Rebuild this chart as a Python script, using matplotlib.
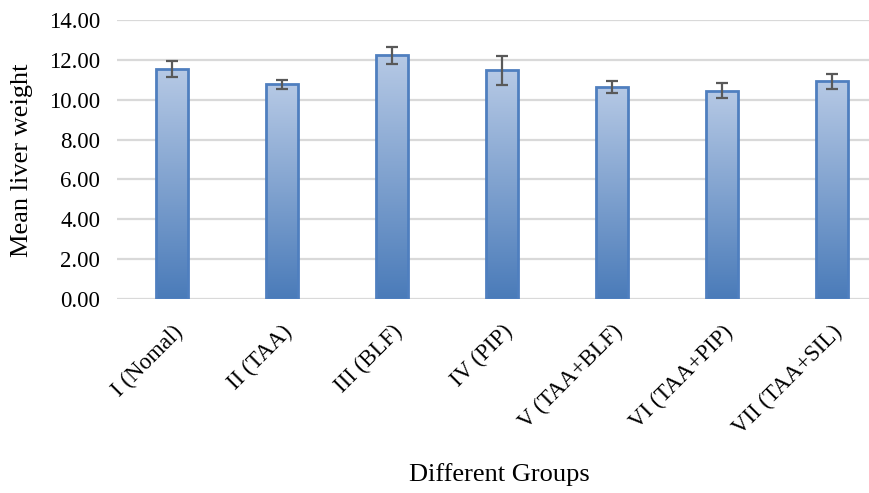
import numpy as np
import matplotlib
matplotlib.use('Agg')
import matplotlib.pyplot as plt
from matplotlib.colors import LinearSegmentedColormap

# values
groups = ['I (Nomal)', 'II (TAA)', 'III (BLF)', 'IV (PIP)',
          'V (TAA+BLF)', 'VI (TAA+PIP)', 'VII (TAA+SIL)']
means = [11.53, 10.78, 12.22, 11.47, 10.65, 10.45, 10.93]
errors = [0.41, 0.23, 0.44, 0.74, 0.31, 0.37, 0.37]
yticks = [0, 2, 4, 6, 8, 10, 12, 14]

plt.rcParams['font.family'] = ['Liberation Serif', 'DejaVu Serif']

fig = plt.figure(figsize=(8.7, 4.93), dpi=100)
ax = fig.add_axes([117 / 870, (493 - 299) / 493, 1 - 117 / 870, (299 - 20) / 493])

x = np.arange(len(groups))
width = 0.29
cmap = LinearSegmentedColormap.from_list('bargrad', ['#4a7bb9', '#b6c9e5'])
grad = np.linspace(0, 1, 256).reshape(-1, 1)

bars = ax.bar(x, means, width=width, color='none', edgecolor='#4f7fbf',
              linewidth=2.0, zorder=3)
for b in bars:
    x0, w, h = b.get_x(), b.get_width(), b.get_height()
    im = ax.imshow(grad, extent=[x0, x0 + w, 0, h], origin='lower',
                   aspect='auto', cmap=cmap, zorder=2)
    im.set_clip_path(b)

ax.errorbar(x, means, yerr=errors, fmt='none', ecolor='#595959',
            elinewidth=1.6, capsize=4.5, capthick=1.6, zorder=4)

ax.set_xlim(-0.5, -0.5 + 753 / 110)
ax.set_ylim(0, 14)
ax.set_yticks(yticks)
ax.set_yticklabels([f'{v:.2f}' for v in yticks], fontsize=16.5)
ax.set_xticks(x)
ax.set_xticklabels(groups, rotation=45, ha='right', rotation_mode='anchor',
                   fontsize=16.5)
ax.tick_params(axis='y', length=0, pad=12)
ax.tick_params(axis='x', length=0, pad=16)
ax.yaxis.grid(True, color='#d9d9d9', linewidth=1.6, zorder=0)
ax.set_axisbelow(True)
for s in ax.spines.values():
    s.set_visible(False)

fig.text(22 / 870, 1 - 160 / 493, 'Mean liver weight', rotation=90,
         ha='center', va='center', fontsize=19)
fig.text(499 / 870, 1 - 475 / 493, 'Different Groups', ha='center',
         va='center', fontsize=19)

fig.savefig('out.png', dpi=100)
